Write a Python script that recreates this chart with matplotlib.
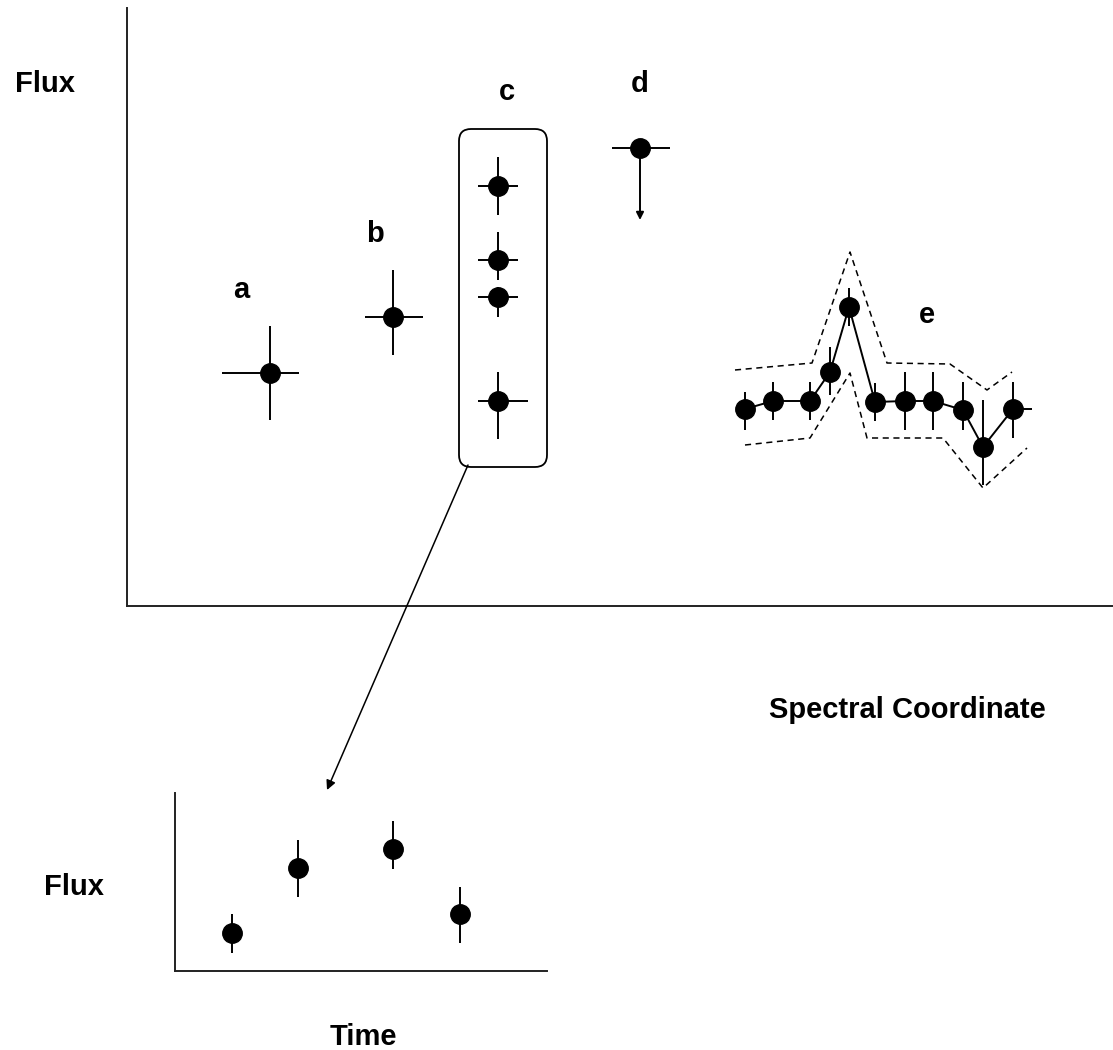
import matplotlib
matplotlib.use("Agg")
import matplotlib.pyplot as plt
from matplotlib.patches import FancyBboxPatch

# ---------------- data (schematic units) ----------------
# isolated measurements a, b
a_x, a_y = [143], [233]
a_xerr = [[48], [29]]
a_yerr = [[47], [47]]
b_x, b_y = [266], [289]
b_xerr = [[28], [30]]
b_yerr = [[38], [47]]

# repeated measurements c (same spectral coordinate)
c_x = [371, 371, 371, 371]
c_y = [420, 346, 309, 205]
c_xerr_lo = [20, 20, 20, 20]
c_xerr_hi = [20, 20, 20, 30]
c_yerr_lo = [29, 20, 20, 38]
c_yerr_hi = [29, 28, 10, 29]

# upper limit d
d_x, d_y = [513], [458]
d_xerr = [[28], [30]]
d_limit_len = 72

# spectrum e
e_x = [618, 646, 683, 703, 722, 748, 778, 806, 836, 856, 886]
e_y = [197, 205, 205, 234, 299, 204, 205, 205, 196, 159, 197]
e_yerr_lo = [21, 19, 19, 23, 19, 19, 29, 29, 20, 38, 29]
e_yerr_hi = [17, 19, 19, 25, 19, 19, 29, 29, 28, 47, 27]
e_xerr_lo = [0] * 11
e_xerr_hi = [0] * 10 + [19]
env_up_x = [608, 685, 723, 760, 823, 860, 885]
env_up_y = [236, 243, 354, 243, 242, 216, 234]
env_lo_x = [618, 683, 723, 740, 816, 856, 900]
env_lo_y = [161, 168, 233, 168, 168, 118, 158]

# light curve (inset)
t_x = [57, 123, 218, 285]
t_y = [38, 103, 122, 57]
t_yerr_lo = [20, 29, 20, 29]
t_yerr_hi = [19, 28, 28, 27]

# ---------------- figure ----------------
W, H = 1113, 1050
fig = plt.figure(figsize=(W / 100, H / 100), dpi=100)
plt.rcParams['font.family'] = ['Liberation Sans', 'DejaVu Sans']

def fx(px):
    return px / W

def fy(py):
    return 1 - py / H

# main axes: pixel box x 127..1113, y 8..606
ax = fig.add_axes([fx(127), fy(606), (1113 - 127) / W, (606 - 8) / H])
ax.set_xlim(0, 986)
ax.set_ylim(0, 598)
for s in ['top', 'right']:
    ax.spines[s].set_visible(False)
for s in ['left', 'bottom']:
    ax.spines[s].set_linewidth(1.4)
    ax.spines[s].set_color('#222222')
ax.set_xticks([])
ax.set_yticks([])

ms = 14
lw = 1.4
ekw = dict(fmt='o', color='black', ms=ms, elinewidth=lw, capsize=0, zorder=3)

ax.errorbar(a_x, a_y, xerr=a_xerr, yerr=a_yerr, **ekw)
ax.errorbar(b_x, b_y, xerr=b_xerr, yerr=b_yerr, **ekw)
ax.errorbar(c_x, c_y, xerr=[c_xerr_lo, c_xerr_hi], yerr=[c_yerr_lo, c_yerr_hi], **ekw)
ax.errorbar(d_x, d_y, xerr=d_xerr, **ekw)
ax.annotate('', xy=(d_x[0], d_y[0] - d_limit_len), xytext=(d_x[0], d_y[0]),
            arrowprops=dict(arrowstyle='-|>', color='black', lw=lw,
                            mutation_scale=11, shrinkA=0, shrinkB=0))

ax.errorbar(e_x, e_y, xerr=[e_xerr_lo, e_xerr_hi], yerr=[e_yerr_lo, e_yerr_hi],
            fmt='o-', color='black', ms=ms, lw=lw, elinewidth=lw, capsize=0, zorder=3)
ax.plot(env_up_x, env_up_y, color='black', lw=1.1, ls=(0, (4, 3)))
ax.plot(env_lo_x, env_lo_y, color='black', lw=1.1, ls=(0, (4, 3)))

# rounded box around c
box = FancyBboxPatch((332, 139), 88, 338,
                     boxstyle='round,pad=0,rounding_size=12',
                     fill=False, ec='black', lw=1.3, zorder=2)
ax.add_patch(box)

# arrow from box to inset
ax.annotate('', xy=(200, -184), xytext=(341, 141), annotation_clip=False,
            arrowprops=dict(arrowstyle='-|>', color='black', lw=1.1,
                            mutation_scale=14, shrinkA=0, shrinkB=0))

# inset axes: pixel box x 175..547, y 793..971
ax2 = fig.add_axes([fx(175), fy(971), (547 - 175) / W, (971 - 793) / H])
ax2.set_xlim(0, 372)
ax2.set_ylim(0, 178)
for s in ['top', 'right']:
    ax2.spines[s].set_visible(False)
for s in ['left', 'bottom']:
    ax2.spines[s].set_linewidth(1.4)
    ax2.spines[s].set_color('#222222')
ax2.set_xticks([])
ax2.set_yticks([])
ax2.errorbar(t_x, t_y, yerr=[t_yerr_lo, t_yerr_hi], **ekw)

# ---------------- text ----------------
tk = dict(fontsize=21, fontweight='bold', ha='center', va='baseline', color='black')
fig.text(fx(45), fy(92), 'Flux', **tk)
fig.text(fx(907), fy(718), 'Spectral Coordinate', **tk)
fig.text(fx(74), fy(895), 'Flux', **tk)
fig.text(fx(363), fy(1045), 'Time', **tk)
fig.text(fx(241), fy(298), 'a', **tk)
fig.text(fx(375), fy(242), 'b', **tk)
fig.text(fx(507), fy(100), 'c', **tk)
fig.text(fx(640), fy(92), 'd', **tk)
fig.text(fx(927), fy(323), 'e', **tk)

fig.savefig('out.png', dpi=100)
